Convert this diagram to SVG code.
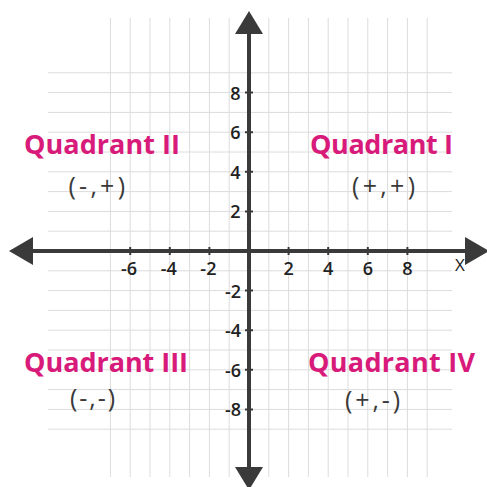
<svg xmlns="http://www.w3.org/2000/svg" width="487" height="487" viewBox="0 0 487 487">
<style>
.g{stroke:#dcdcdc;stroke-width:1;fill:none}
.ax{stroke:#3a3a3a;stroke-width:4;fill:none}
.tk{stroke:#3a3a3a;stroke-width:2}
.ah{fill:#3a3a3a}
.n{font-family:"Open Sans","DejaVu Sans",sans-serif;font-size:18px;font-weight:600;fill:#222}
.q{font-family:"Open Sans","DejaVu Sans",sans-serif;font-size:27px;font-weight:700;fill:#d81b7a}
.c{font-family:"Open Sans","DejaVu Sans",sans-serif;font-size:25px;font-weight:500;fill:#3a3a3a}
.xl{font-family:"Open Sans","DejaVu Sans",sans-serif;font-size:17px;fill:#222}
</style>
<rect width="487" height="487" fill="#fff"/>
<g id="grid" class="g">
<path d="M110.4 18V477M130.2 18V477M150 18V477M169.8 18V477M189.6 18V477M209.4 18V477M229.2 18V477M268.8 18V477M288.6 18V477M308.4 18V477M328.2 18V477M348 18V477M367.8 18V477M387.6 18V477M407.4 18V477M427.2 18V477"/>
<path d="M48 72.8H452M48 92.6H452M48 112.4H452M48 132.2H452M48 152H452M48 171.8H452M48 191.6H452M48 211.4H452M48 231.2H452M48 270.8H452M48 290.6H452M48 310.4H452M48 330.2H452M48 350H452M48 369.8H452M48 389.6H452M48 409.4H452M48 429.2H452"/>
</g>
<g id="axes">
<path class="ax" d="M30 251H468M249 30V471"/>
<polygon class="ah" points="9,251 33,237 33,265"/>
<polygon class="ah" points="489,251 465,237 465,265"/>
<polygon class="ah" points="249,11 235,34 263,34"/>
<polygon class="ah" points="249,490 235,467 263,467"/>
<path class="tk" d="M130.2 247V255M169.8 247V255M209.4 247V255M288.6 247V255M328.2 247V255M367.8 247V255M407.4 247V255M245 92.6H253M245 132.2H253M245 171.8H253M245 211.4H253M245 290.6H253M245 330.2H253M245 369.8H253M245 409.4H253"/>
</g>
<g id="x-labels" class="n" text-anchor="middle">
<text x="129" y="274.5">-6</text>
<text x="168.8" y="274.5">-4</text>
<text x="208.4" y="274.5">-2</text>
<text x="288.6" y="274.5">2</text>
<text x="328.2" y="274.5">4</text>
<text x="367.8" y="274.5">6</text>
<text x="407.4" y="274.5">8</text>
</g>
<text id="x-axis-label" class="xl" x="460" y="270.5" text-anchor="middle">X</text>
<g id="y-labels" class="n" text-anchor="end">
<text x="240.5" y="99.5">8</text>
<text x="240.5" y="139">6</text>
<text x="240.5" y="178.5">4</text>
<text x="240.5" y="218">2</text>
<text x="241" y="297.5">-2</text>
<text x="241" y="337">-4</text>
<text x="241" y="376.5">-6</text>
<text x="241" y="416">-8</text>
</g>
<g id="quadrant-1">
<text class="q" x="310" y="154.3" textLength="143" lengthAdjust="spacing">Quadrant I</text>
<text class="c" x="352" y="194.5" textLength="63" lengthAdjust="spacing">(+,+)</text>
</g>
<g id="quadrant-2">
<text class="q" x="24" y="154.3" textLength="156" lengthAdjust="spacing">Quadrant II</text>
<text class="c" x="68.5" y="194.5" textLength="56.5" lengthAdjust="spacing">(-,+)</text>
</g>
<g id="quadrant-3">
<text class="q" x="24" y="371.5" textLength="164" lengthAdjust="spacing">Quadrant III</text>
<text class="c" x="70" y="406.5" textLength="45" lengthAdjust="spacing">(-,-)</text>
</g>
<g id="quadrant-4">
<text class="q" x="308" y="371.5" textLength="167" lengthAdjust="spacing">Quadrant IV</text>
<text class="c" x="345" y="408.5" textLength="55" lengthAdjust="spacing">(+,-)</text>
</g>
</svg>
